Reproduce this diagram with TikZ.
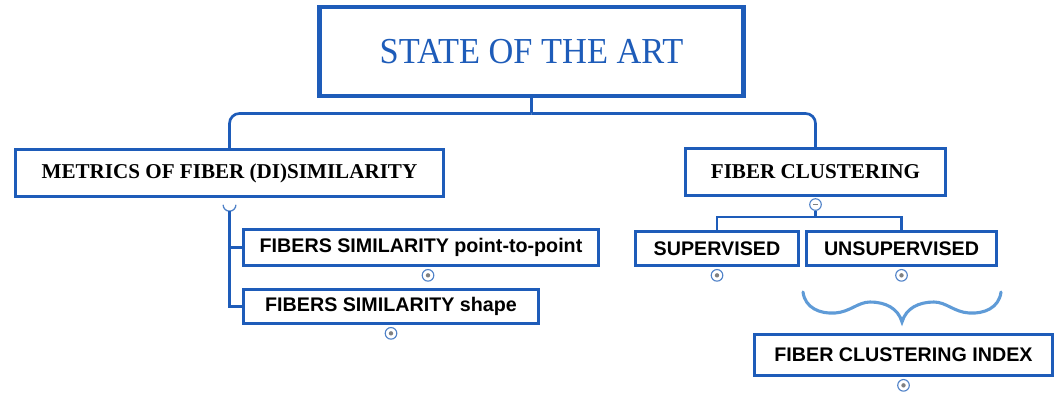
\documentclass[tikz,border=0pt]{standalone}
\usepackage{fontspec}
\setmainfont{Liberation Serif}
\setsansfont{Liberation Sans}
\usetikzlibrary{positioning}
\definecolor{boxblue}{RGB}{30,92,185}
\definecolor{bracecol}{RGB}{95,155,215}
\definecolor{markcol}{RGB}{80,130,200}

\begin{document}
\begin{tikzpicture}[x=0.025cm, y=-0.025cm, node distance=0.06cm,
    box/.style={draw=boxblue, line width=2.1pt, fill=white, inner sep=0pt, minimum height=1.175cm},
    serifbox/.style={box, font=\fontsize{15}{18}\selectfont\bfseries},
    sansbox/.style={box, font=\sffamily\bfseries\fontsize{14}{17}\selectfont, minimum height=0.85cm},
    conn/.style={draw=boxblue, line width=1.9pt},
    dotmark/.style={circle, draw=markcol, line width=0.8pt, fill=white, minimum size=0.29cm, inner sep=0pt,
        path picture={\fill[gray] (path picture bounding box.center) circle (0.055cm);}},
    minusmark/.style={circle, draw=markcol, line width=0.8pt, fill=white, minimum size=0.29cm, inner sep=0pt,
        path picture={\draw[gray, line width=0.8pt] ([xshift=-0.06cm]path picture bounding box.center) -- ([xshift=0.06cm]path picture bounding box.center);}},
    brace/.style={draw=bracecol, line width=2.2pt, line cap=round}]
    % Frame
    \useasboundingbox (0,0) rectangle (1063,396);

    % Nodes
    \node (root) [box, line width=3.5pt, minimum width=10.575cm, minimum height=2.225cm, text=boxblue, font=\fontsize{26}{30}\selectfont] at (531.5,51.5) {\scalebox{0.94}[1]{STATE OF THE ART}};
    \node (metrics) [serifbox, minimum width=10.7cm] at (229.5,173) {METRICS OF FIBER (DI)SIMILARITY};
    \node (clust) [serifbox, minimum width=6.5cm] at (815.5,172) {FIBER CLUSTERING};
    \node (p2p) [sansbox, minimum width=8.875cm, minimum height=0.9cm] at (421,247.5) {FIBERS SIMILARITY point-to-point};
    \node (shape) [sansbox, minimum width=7.375cm] at (391,306.5) {FIBERS SIMILARITY shape};
    \node (sup) [sansbox, minimum width=4.075cm] at (717,248.5) {SUPERVISED};
    \node (unsup) [sansbox, minimum width=4.75cm, right=0.125cm of sup] {UNSUPERVISED};
    \node (index) [sansbox, minimum width=7.45cm, minimum height=1.025cm] at (903.5,355) {FIBER CLUSTERING INDEX};

    % Markers
    \node (p2pdot) [dotmark, below=0.05cm of p2p, xshift=0.175cm] {};
    \node (shapedot) [dotmark, below=0.05cm of shape] {};
    \node (supdot) [dotmark, below=0.05cm of sup] {};
    \node (unsupdot) [dotmark, below=0.05cm of unsup] {};
    \node (indexdot) [dotmark, below=0.05cm of index] {};
    \node (clustmin) [minusmark, below=0.03cm of clust] {};
    \coordinate (mcup) at ([yshift=-0.17cm]metrics.south);
    \draw[draw=markcol, line width=0.9pt] ([xshift=-0.16cm]mcup) arc (180:360:0.16cm);

    % Edges
    \draw[conn] (root.south) -- ++(0,15) coordinate (rsplit);
    \draw[conn, rounded corners=0.25cm] (rsplit) -| (metrics.north);
    \draw[conn, rounded corners=0.25cm] (rsplit) -| (clust.north);
    \draw[conn] ([yshift=-0.16cm]mcup) |- (p2p.west);
    \draw[conn] ([yshift=-0.16cm]mcup) |- (shape.west);
    \draw[conn] (clustmin.south) -- ++(0,6) coordinate (csplit);
    \draw[conn] (csplit) -| (sup.north);
    \draw[conn] (csplit) -| (unsup.north);

    % Brace
    \draw[brace] (803,292) .. controls (805,308) and (820,314) .. (835,313)
        .. controls (850,312) and (858,302) .. (870,302)
        .. controls (885,302) and (898,308) .. (902,322)
        .. controls (906,308) and (919,302) .. (934,302)
        .. controls (946,302) and (954,312) .. (969,313)
        .. controls (984,314) and (999,308) .. (1001,292);
\end{tikzpicture}
\end{document}
